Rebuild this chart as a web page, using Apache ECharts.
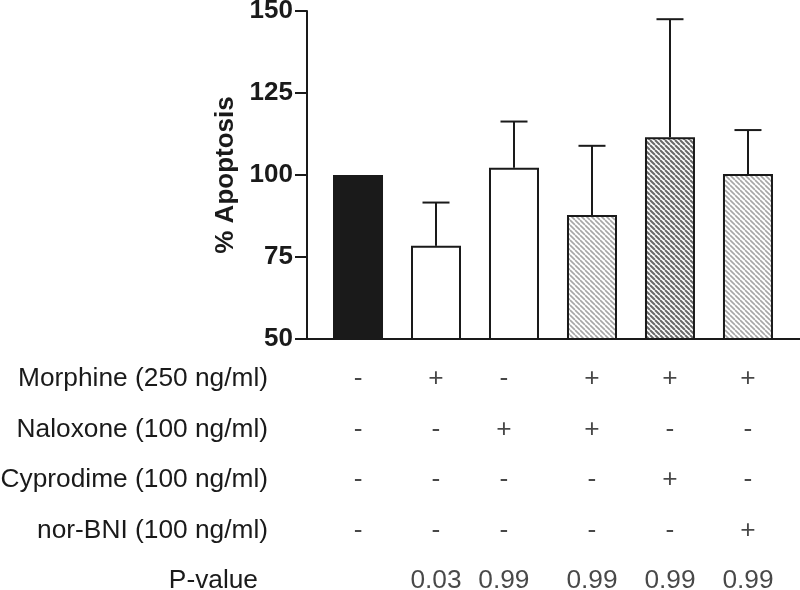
<!DOCTYPE html>
<html>
<head>
<meta charset="utf-8">
<script src="https://cdn.jsdelivr.net/npm/echarts@6/dist/echarts.min.js"></script>
<style>
html,body{margin:0;padding:0;background:#fff;}
#chart{width:800px;height:590px;}
</style>
</head>
<body>
<div id="chart"></div>
<script>
// ---- data ----
const groups = ['Control', 'Morphine', 'Naloxone', 'Morphine+Naloxone', 'Morphine+Cyprodime', 'Morphine+nor-BNI'];
const meanApoptosis = [100, 78.4, 102.2, 87.8, 111.5, 100.3];
const errorUpper = [null, 91.6, 116.3, 108.9, 147.5, 113.7];
const yTicks = [50, 75, 100, 125, 150];
const rowLabels = ['Morphine (250 ng/ml)', 'Naloxone (100 ng/ml)', 'Cyprodime (100 ng/ml)', 'nor-BNI (100 ng/ml)', 'P-value'];
const morphine = ['-', '+', '-', '+', '+', '+'];
const naloxone = ['-', '-', '+', '+', '-', '-'];
const cyprodime = ['-', '-', '-', '-', '+', '-'];
const norBNI = ['-', '-', '-', '-', '-', '+'];
const pValues = ['', '0.03', '0.99', '0.99', '0.99', '0.99'];

// ---- layout (not data) ----
const tableColumnShift = [0, 0, -0.13, 0, 0, 0];
const xMin = -0.654, xMax = 5.667;

function stripes(color, lw) {
  const c = document.createElement('canvas');
  c.width = 5; c.height = 5;
  const ctx = c.getContext('2d');
  ctx.fillStyle = '#ffffff';
  ctx.fillRect(0, 0, 5, 5);
  ctx.strokeStyle = color;
  ctx.lineWidth = lw;
  ctx.beginPath();
  [-5, 0, 5].forEach(o => { ctx.moveTo(o, 0); ctx.lineTo(o + 5, 5); });
  ctx.stroke();
  return c;
}
const lightPat = { image: stripes('#a6a6a6', 1.6), repeat: 'repeat' };
const darkPat = { image: stripes('#6a6a6a', 2.0), repeat: 'repeat' };
const fills = ['#1a1a1a', '#ffffff', '#ffffff', lightPat, darkPat, lightPat];

const barData = meanApoptosis.map((v, i) => ({
  value: [i, v],
  itemStyle: { color: fills[i], borderColor: '#1a1a1a', borderWidth: 2 }
}));
const errData = [];
meanApoptosis.forEach((v, i) => { if (errorUpper[i] != null) errData.push([i, v, errorUpper[i]]); });

const tableRows = [morphine, naloxone, cyprodime, norBNI, pValues];
const tableData = [];
tableRows.forEach((row, r) => row.forEach((t, c) => {
  if (t !== '') tableData.push({ value: [c + tableColumnShift[c], r], txt: t });
}));

const chart = echarts.init(document.getElementById('chart'), null, { renderer: 'canvas' });
const ink = '#1a1a1a';
const fs = 26.3;
chart.setOption({
  animation: false,
  backgroundColor: '#ffffff',
  textStyle: { fontFamily: 'Liberation Sans' },
  grid: [
    { left: 307, right: 0, top: 11, bottom: 251, outerBoundsMode: 'none', containLabel: false },
    { left: 307, right: 0, top: 379, height: 202, outerBoundsMode: 'none', containLabel: false }
  ],
  xAxis: [
    { gridIndex: 0, type: 'value', min: xMin, max: xMax,
      axisLine: { show: true, onZero: false, lineStyle: { color: ink, width: 2 } },
      axisTick: { show: false }, axisLabel: { show: false }, splitLine: { show: false } },
    { gridIndex: 1, type: 'value', min: xMin, max: xMax, show: false, splitLine: { show: false } }
  ],
  yAxis: [
    { gridIndex: 0, type: 'value', min: yTicks[0], max: yTicks[yTicks.length - 1], interval: 25,
      name: '% Apoptosis', nameLocation: 'middle', nameGap: 64,
      nameTextStyle: { fontFamily: 'Liberation Sans', fontWeight: 'bold', fontSize: 26, color: ink },
      axisLine: { show: true, onZero: false, lineStyle: { color: ink, width: 2 } },
      axisTick: { show: true, length: 12, lineStyle: { color: ink, width: 2 } },
      axisLabel: { margin: 14, fontFamily: 'Liberation Sans', fontWeight: 'bold', fontSize: 26, color: ink },
      splitLine: { show: false } },
    { gridIndex: 1, type: 'value', inverse: true, min: 0, max: 4, interval: 1,
      axisLine: { show: false }, axisTick: { show: false }, splitLine: { show: false },
      axisLabel: { margin: 39, fontFamily: 'Liberation Sans', fontSize: fs, color: ink,
        formatter: v => v === 4 ? '{p|' + rowLabels[v] + '}' : rowLabels[v],
        rich: { p: { fontFamily: 'Liberation Sans', fontSize: fs, color: ink, padding: [0, 10, 0, 0] } } } }
  ],
  series: [
    { type: 'bar', xAxisIndex: 0, yAxisIndex: 0, barWidth: 50, data: barData, z: 3 },
    { type: 'custom', xAxisIndex: 0, yAxisIndex: 0, z: 2, data: errData,
      renderItem: (params, api) => {
        const p0 = api.coord([api.value(0), api.value(1)]);
        const p1 = api.coord([api.value(0), api.value(2)]);
        const st = { stroke: ink, lineWidth: 2 };
        return { type: 'group', children: [
          { type: 'line', shape: { x1: p0[0], y1: p0[1], x2: p1[0], y2: p1[1] }, style: st },
          { type: 'line', shape: { x1: p1[0] - 13.5, y1: p1[1], x2: p1[0] + 13.5, y2: p1[1] }, style: st }
        ] };
      } },
    { type: 'scatter', xAxisIndex: 1, yAxisIndex: 1, symbolSize: 0, data: tableData,
      label: { show: true, position: 'inside', formatter: p => p.data.txt,
        fontFamily: 'Liberation Sans', fontSize: fs, color: ink } }
  ]
});
</script>
</body>
</html>
